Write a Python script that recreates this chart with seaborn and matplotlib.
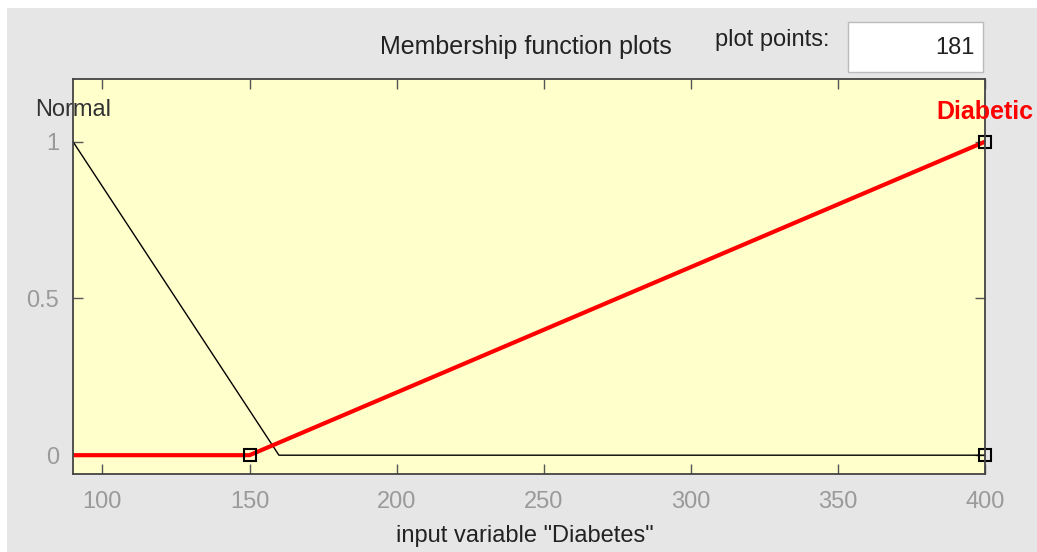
import matplotlib
matplotlib.use("Agg")
import matplotlib.pyplot as plt
import seaborn as sns
from matplotlib.patches import Rectangle

# ---- data ----
normal_x = [90, 160, 400]
normal_y = [1, 0, 0]
diabetic_x = [90, 150, 400]
diabetic_y = [0, 0, 1]
marker_x = [150, 400, 400]
marker_y = [0, 1, 0]
xticks = [100, 150, 200, 250, 300, 350, 400]
yticks = [0, 0.5, 1]
ytick_labels = ["0", "0.5", "1"]

sns.set_style("white")
plt.rcParams["font.family"] = ["Liberation Sans", "DejaVu Sans"]

fig = plt.figure(figsize=(10.37, 5.52), dpi=100, facecolor="white")
fig.patches.append(Rectangle((7/1037, 0), 1, 1 - 8/552, transform=fig.transFigure,
                             facecolor="#e6e6e6", edgecolor="none", zorder=-10))

ax = fig.add_axes([73/1037, 1 - 474/552, (985-73)/1037, (474-79)/552])
ax.set_facecolor("#ffffcc")

sns.lineplot(x=normal_x, y=normal_y, ax=ax, color="black", linewidth=1.0, sort=False,
             estimator=None)
sns.lineplot(x=diabetic_x, y=diabetic_y, ax=ax, color="#ff0000", linewidth=3.0, sort=False,
             estimator=None)
ax.plot(marker_x, marker_y, linestyle="none", marker="s", markersize=8,
        markerfacecolor="none", markeredgecolor="black", markeredgewidth=1.5, clip_on=False)

ax.set_xlim(90, 400)
ax.set_ylim(-0.06, 1.2)
ax.set_xticks(xticks)
ax.set_yticks(yticks)
ax.set_yticklabels(ytick_labels)
ax.tick_params(axis="both", direction="in", length=7, width=1, colors="#555555",
               labelcolor="#9a9a9a", labelsize=17, top=True, right=True, bottom=True, left=True)
ax.tick_params(axis="x", pad=12)
ax.tick_params(axis="y", pad=10)
for s in ax.spines.values():
    s.set_color("#444444")
    s.set_linewidth(1.3)

fig.text(525/1037, 1 - 536/552, 'input variable "Diabetes"', ha="center", va="center",
         fontsize=17, color="#222222")

ax.text(90, 1.1, "Normal", ha="center", va="center", fontsize=17, color="#333333")
ax.text(400, 1.095, "Diabetic", ha="center", va="center", fontsize=18, color="#ff0000",
        fontweight="bold")

fig.text(526/1037, 1 - 47/552, "Membership function plots", ha="center", va="center",
         fontsize=18, color="#222222")
fig.text(772/1037, 1 - 40/552, "plot points:", ha="center", va="center",
         fontsize=17, color="#222222")
fig.patches.append(Rectangle((848/1037, 1 - 72/552), (983-848)/1037, 50/552,
                             transform=fig.transFigure, facecolor="white",
                             edgecolor="#bbbbbb", linewidth=1, zorder=1))
fig.text(975/1037, 1 - 48/552, "181", ha="right", va="center", fontsize=17, color="#222222")

fig.savefig("out.png", dpi=100, facecolor=fig.get_facecolor())
